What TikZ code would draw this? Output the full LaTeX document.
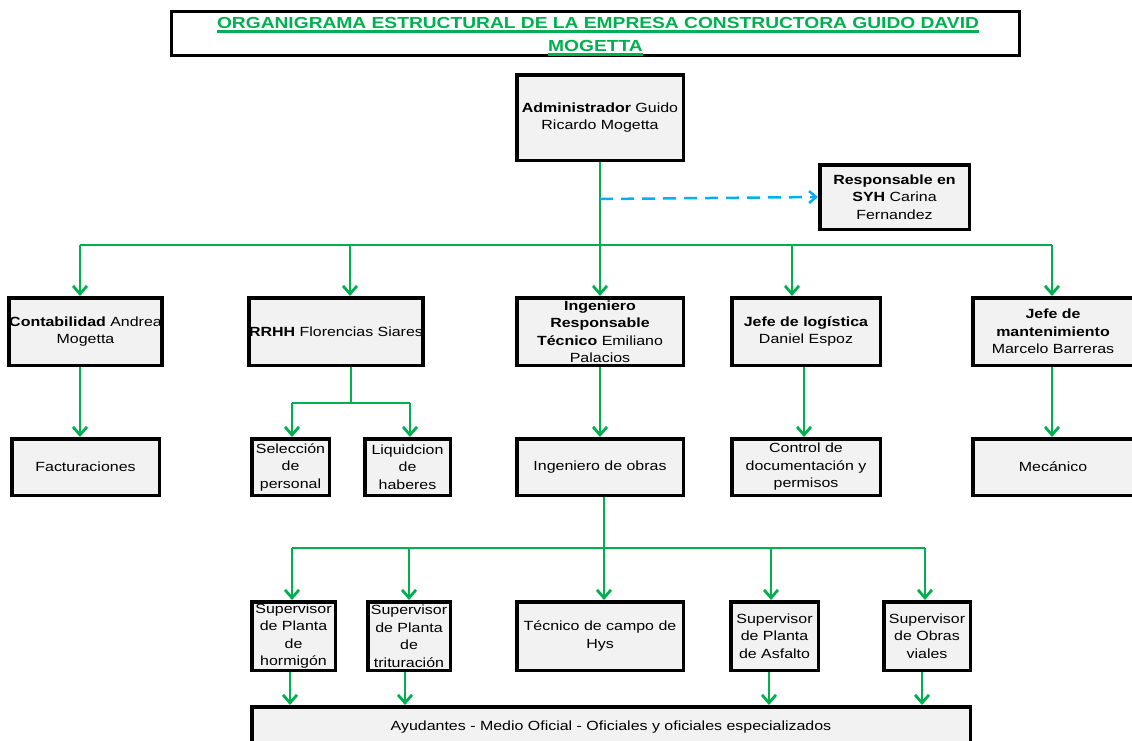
\documentclass[tikz,border=0pt]{standalone}
\usepackage{fontspec}
\setmainfont{Liberation Sans}[FakeStretch=1.2]
\usetikzlibrary{arrows.meta}
\definecolor{ogreen}{HTML}{00B050}
\definecolor{oblue}{HTML}{00B0F0}
\definecolor{ofill}{HTML}{F2F2F2}
\begin{document}
\begin{tikzpicture}[x=1pt,y=-1pt,
  box/.style={draw=black, line width=3.5pt, fill=ofill, align=center, inner sep=0pt,
    font=\fontsize{13.3}{17.5}\selectfont},
  titlebox/.style={draw=black, line width=3pt, inner sep=0pt},
  titletext/.style={inner sep=0pt, anchor=base, text=ogreen, font=\fontsize{16}{23}\selectfont\bfseries},
  uline/.style={draw=ogreen, line width=2.6pt},
  arr/.style={draw=ogreen, line width=2.8pt, -{Straight Barb[length=8pt,width=14pt]}},
  conn/.style={draw=ogreen, line width=2.8pt},
  dasharr/.style={draw=oblue, line width=2.5pt, dash pattern=on 13pt off 8pt,
    -{Straight Barb[length=7pt,width=12pt]}},
  row1/.style={box, minimum height=67.5pt},
  row2/.style={box, minimum height=56.5pt},
  row3/.style={box, minimum height=68.5pt}
]
\useasboundingbox (0,0) rectangle (1132,740);
\fill[white] (0,0) rectangle (1132,740);

% title
\node[titlebox, minimum width=848pt, minimum height=44pt] (title) at (595.5,33.5) {};
\node[titletext] (t1) at (598,28.5) {ORGANIGRAMA ESTRUCTURAL DE LA EMPRESA CONSTRUCTORA GUIDO DAVID\ };
\node[titletext] (t2) at (595.5,51.5) {MOGETTA};
\draw[uline] ([yshift=-3.2pt]t1.base west) -- ([yshift=-3.2pt]t1.base east);
\draw[uline] ([yshift=-3.2pt]t2.base west) -- ([yshift=-3.2pt]t2.base east);

% top
\node[box, minimum width=166.5pt, minimum height=85.5pt] (admin) at (600,117.5)
  {\textbf{Administrador} Guido\\Ricardo Mogetta};
\node[box, minimum width=149.5pt, minimum height=64.5pt] (syh) at (894.5,197)
  {\textbf{Responsable en}\\\textbf{SYH} Carina\\Fernandez};

% row 1
\node[row1, minimum width=147.5pt] (conta) at (85.5,331.5) {\textbf{Contabilidad} Andrea\\Mogetta};
\node[row1, minimum width=168.5pt] (rrhh) at (336,331.5) {\textbf{RRHH} Florencias Siares};
\node[row1, minimum width=166.5pt] (ing) at (600,331.5)
  {\textbf{Ingeniero}\\\textbf{Responsable}\\\textbf{Técnico} Emiliano\\Palacios};
\node[row1, minimum width=148.5pt] (log) at (806,331.5) {\textbf{Jefe de logística}\\Daniel Espoz};
\node[row1, minimum width=160.5pt] (mant) at (1053,331.5)
  {\textbf{Jefe de}\\\textbf{mantenimiento}\\Marcelo Barreras};

% row 2
\node[row2, minimum width=147.5pt] (fact) at (85.5,467) {Facturaciones};
\node[row2, minimum width=77.5pt] (sel) at (290.5,467) {Selección\\de\\personal};
\node[row2, minimum width=85.5pt] (liq) at (407.5,467) {Liquidcion\\de\\haberes};
\node[row2, minimum width=166.5pt] (obras) at (600,467) {Ingeniero de obras};
\node[row2, minimum width=148.5pt] (ctrl) at (806,467) {Control de\\documentación y\\permisos};
\node[row2, minimum width=160.5pt] (mec) at (1053,467) {Mecánico};

% row 3
\node[row3, minimum width=83.5pt] (sh) at (293.5,636) {Supervisor\\de Planta\\de\\hormigón};
\node[row3, minimum width=82.5pt] (st) at (409,636) {Supervisor\\de Planta\\de\\trituración};
\node[row3, minimum width=166.5pt] (tec) at (600,636) {Técnico de campo de\\Hys};
\node[row3, minimum width=87.5pt] (sa) at (774.5,636) {Supervisor\\de Planta\\de Asfalto};
\node[row3, minimum width=86.5pt] (so) at (927,636) {Supervisor\\de Obras\\viales};

% bottom
\node[box, minimum width=718.5pt, minimum height=40.5pt] (ayu) at (611,727)
  {Ayudantes - Medio Oficial - Oficiales y oficiales especializados};

% connectors level 1
\coordinate (bus1) at (600,245);
\draw[conn] ([xshift=-5.5pt]conta.north |- bus1) -- ([xshift=-1pt]mant.north |- bus1);
\draw[arr] (admin.south) -- (ing.north);
\coordinate (d0) at (600,199);
\draw[dasharr] (d0) -- (syh.west);
\draw[arr] ([xshift=-5.5pt]conta.north |- bus1) -- ([xshift=-5.5pt]conta.north);
\draw[arr] ([xshift=14pt]rrhh.north |- bus1) -- ([xshift=14pt]rrhh.north);
\draw[arr] ([xshift=-14pt]log.north |- bus1) -- ([xshift=-14pt]log.north);
\draw[arr] ([xshift=-1pt]mant.north |- bus1) -- ([xshift=-1pt]mant.north);

% connectors level 2
\draw[arr] ([xshift=-5.5pt]conta.south) -- ([xshift=-5.5pt]fact.north);
\coordinate (bus2) at (351,403);
\draw[conn] ([xshift=15pt]rrhh.south) -- (bus2);
\draw[conn] ([xshift=1.5pt]sel.north |- bus2) -- ([xshift=2.5pt]liq.north |- bus2);
\draw[arr] ([xshift=1.5pt]sel.north |- bus2) -- ([xshift=1.5pt]sel.north);
\draw[arr] ([xshift=2.5pt]liq.north |- bus2) -- ([xshift=2.5pt]liq.north);
\draw[arr] (ing.south) -- (obras.north);
\draw[arr] ([xshift=-2pt]log.south) -- ([xshift=-2pt]ctrl.north);
\draw[arr] ([xshift=-1pt]mant.south) -- ([xshift=-1pt]mec.north);

% connectors level 3
\coordinate (bus3) at (604,548);
\draw[conn] ([xshift=-1.5pt]sh.north |- bus3) -- ([xshift=-2pt]so.north |- bus3);
\draw[arr] ([xshift=4pt]obras.south) -- ([xshift=4pt]tec.north);
\draw[arr] ([xshift=-1.5pt]sh.north |- bus3) -- ([xshift=-1.5pt]sh.north);
\draw[arr] (st.north |- bus3) -- (st.north);
\draw[arr] ([xshift=-3.5pt]sa.north |- bus3) -- ([xshift=-3.5pt]sa.north);
\draw[arr] ([xshift=-2pt]so.north |- bus3) -- ([xshift=-2pt]so.north);

% connectors to bottom
\draw[arr] ([xshift=-3.5pt]sh.south) -- ([xshift=-3.5pt]sh.south |- ayu.north);
\draw[arr] ([xshift=-4pt]st.south) -- ([xshift=-4pt]st.south |- ayu.north);
\draw[arr] ([xshift=-5.5pt]sa.south) -- ([xshift=-5.5pt]sa.south |- ayu.north);
\draw[arr] ([xshift=-5pt]so.south) -- ([xshift=-5pt]so.south |- ayu.north);
\end{tikzpicture}
\end{document}
